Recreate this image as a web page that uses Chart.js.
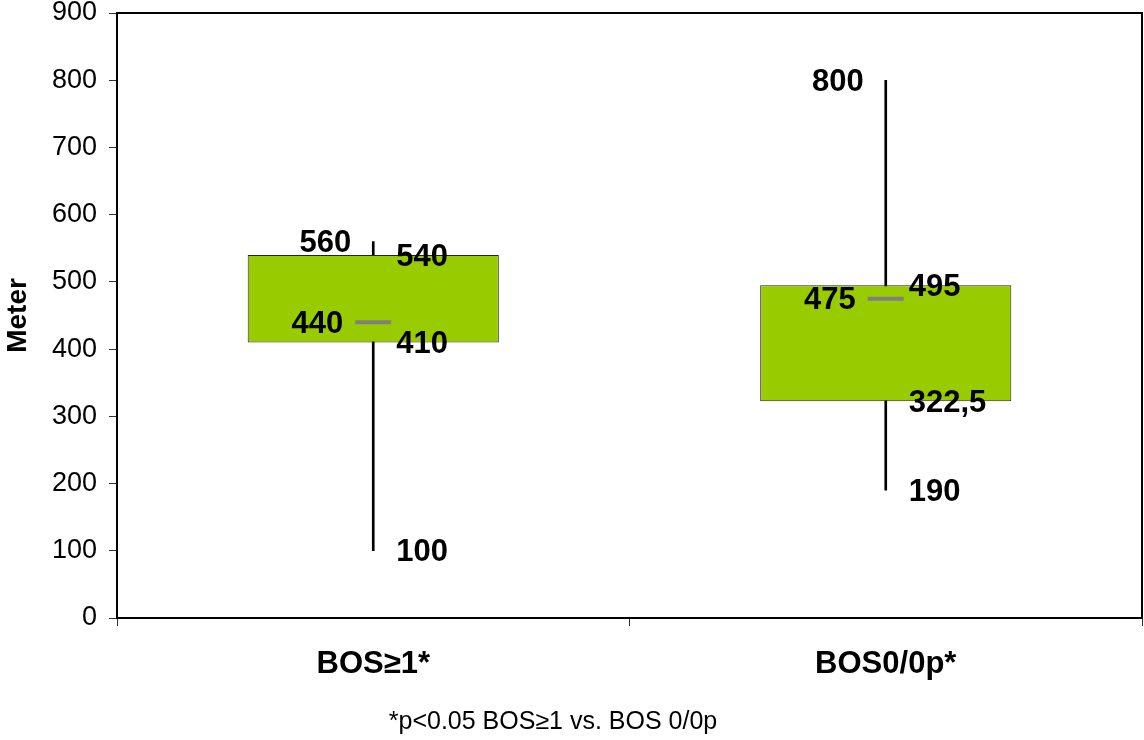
<!DOCTYPE html>
<html>
<head>
<meta charset="utf-8">
<script src="https://cdn.jsdelivr.net/npm/chart.js@4/dist/chart.umd.min.js"></script>
<style>
  html, body { margin: 0; padding: 0; background: #fff; overflow: hidden; }
  #wrap { width: 1144px; height: 740px; }
  canvas { display: block; }
</style>
</head>
<body>
<div id="wrap"><canvas id="myChart" width="1144" height="740"></canvas></div>
<script>
// box plot data (meters)
const categories = ["BOS\u22651*", "BOS0/0p*"];
const minVals = [100, 190];
const q1Vals = [410, 322.5];
const medianVals = [440, 475];
const q3Vals = [540, 495];
const maxVals = [560, 800];
const yTicks = [0, 100, 200, 300, 400, 500, 600, 700, 800, 900];
const footNote = "*p<0.05 BOS\u22651 vs. BOS 0/0p";

const FONT = "'Liberation Sans', Arial, sans-serif";

function fmt(v){
    return v.toString().replace(".", ",");
}

// frame on top and right of the plot, plus the footnote
const framePlugin = {
    id: "frame",
    afterDraw(chart){
        const a = chart.chartArea;
        const ctx = chart.ctx;
        ctx.save();
        ctx.strokeStyle = "#000";
        ctx.lineWidth = 2;
        ctx.beginPath();
        ctx.moveTo(a.left, a.top);
        ctx.lineTo(a.right, a.top);
        ctx.lineTo(a.right, a.bottom);
        ctx.stroke();
        ctx.font = "25px " + FONT;
        ctx.fillStyle = "#000";
        ctx.textAlign = "center";
        ctx.textBaseline = "middle";
        ctx.fillText(footNote, 553, 722);
        ctx.restore();
    }
};

// value labels next to the boxes
const labelPlugin = {
    id: "boxLabels",
    afterDatasetsDraw(chart){
        const ctx = chart.ctx;
        const x = chart.scales.x;
        const y = chart.scales.y;
        const py = v => y.getPixelForValue(v) + 2;
        ctx.save();
        ctx.font = "bold 31px " + FONT;
        ctx.fillStyle = "#000";
        ctx.textBaseline = "middle";
        categories.forEach(function(c, i){
            const cx = x.getPixelForValue(i);
            ctx.textAlign = "right";
            ctx.fillText(fmt(maxVals[i]), cx - 22, py(maxVals[i]));
            ctx.fillText(fmt(medianVals[i]), cx - 30, py(medianVals[i]));
            ctx.textAlign = "left";
            ctx.fillText(fmt(q3Vals[i]), cx + 23, py(q3Vals[i]));
            ctx.fillText(fmt(q1Vals[i]), cx + 23, py(q1Vals[i]));
            ctx.fillText(fmt(minVals[i]), cx + 23, py(minVals[i]));
        });
        ctx.restore();
    }
};

const ctx = document.getElementById("myChart").getContext("2d");
const myChart = new Chart(ctx, {
    type: "bar",
    data: {
        labels: categories,
        datasets: [
            {
                label: "whisker",
                data: minVals.map((v, i) => [v, maxVals[i]]),
                backgroundColor: "#000",
                barThickness: 2,
                grouped: false,
                order: 3
            },
            {
                label: "box",
                data: q1Vals.map((v, i) => [v, q3Vals[i]]),
                backgroundColor: "#99CC00",
                borderColor: "#222",
                borderWidth: 1,
                borderSkipped: false,
                barPercentage: 0.49,
                categoryPercentage: 1,
                grouped: false,
                order: 2
            },
            {
                type: "line",
                label: "median",
                data: medianVals,
                showLine: false,
                pointStyle: "line",
                pointRadius: 18,
                pointBorderWidth: 4,
                borderColor: "#808080",
                backgroundColor: "#808080",
                order: 1
            }
        ]
    },
    options: {
        responsive: false,
        animation: false,
        layout: { autoPadding: false, padding: { top: 13, right: 2, left: 0, bottom: 0 } },
        plugins: {
            legend: { display: false },
            tooltip: { enabled: false }
        },
        scales: {
            x: {
                grid: { drawOnChartArea: false, tickLength: 8, color: "#333", offset: true },
                border: { color: "#000", width: 2 },
                ticks: {
                    color: "#000",
                    padding: 20,
                    font: { family: FONT, size: 31, weight: "bold" }
                },
                afterFit: function(scale){
                    scale.height = 122;
                    scale.paddingLeft = 0;
                    scale.paddingRight = 0;
                }
            },
            y: {
                min: 0,
                max: 900,
                afterBuildTicks: function(scale){ scale.ticks = yTicks.map(v => ({ value: v })); },
                grid: { drawOnChartArea: false, tickLength: 8, color: "#333" },
                border: { color: "#000", width: 2 },
                ticks: {
                    color: "#000",
                    padding: 12,
                    font: { family: FONT, size: 27 }
                },
                title: {
                    display: true,
                    text: "Meter",
                    color: "#000",
                    padding: 1,
                    font: { family: FONT, size: 28, weight: "bold" }
                },
                afterFit: function(scale){
                    scale.width = 117;
                    scale.paddingTop = 0;
                    scale.paddingBottom = 0;
                }
            }
        }
    },
    plugins: [framePlugin, labelPlugin]
});
</script>
</body>
</html>
